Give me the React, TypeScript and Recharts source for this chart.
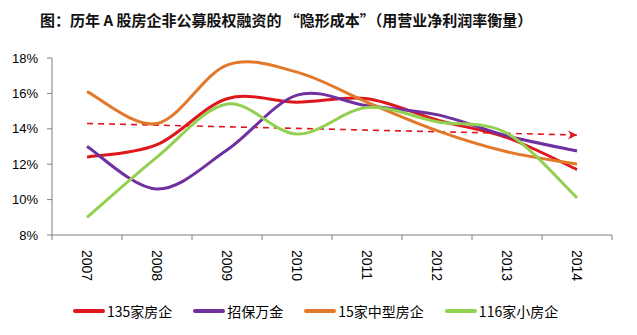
import React from 'react';
import { LineChart, Line, XAxis, YAxis } from 'recharts';

const years = ['2007', '2008', '2009', '2010', '2011', '2012', '2013', '2014'];
const red135 = [12.4, 13.1, 15.7, 15.5, 15.7, 14.5, 13.5, 11.7];
const zhaoBaoWanJin = [13.0, 10.6, 12.8, 15.9, 15.3, 14.8, 13.6, 12.75];
const mid15 = [16.1, 14.3, 17.6, 17.2, 15.5, 13.9, 12.7, 12.0];
const small116 = [9.0, 12.4, 15.4, 13.7, 15.2, 14.4, 13.75, 10.1];
const trend = [14.3, null, null, null, null, null, null, 13.65];
const yTicks = [8, 10, 12, 14, 16, 18];

const series = [
  { key: 's1', name: '135家房企', color: '#E0161D', values: red135 },
  { key: 's2', name: '招保万金', color: '#7030A0', values: zhaoBaoWanJin },
  { key: 's3', name: '15家中型房企', color: '#E2782A', values: mid15 },
  { key: 's4', name: '116家小房企', color: '#92D050', values: small116 },
];

const data = years.map((y, i) => {
  const row: any = { year: y, trend: trend[i] };
  series.forEach((s) => (row[s.key] = s.values[i]));
  return row;
});

// Catmull-Rom style smoothing (similar to Excel smoothed lines)
const smoothCurve: any = (context: any) => {
  let pts: number[][] = [];
  return {
    areaStart() {},
    areaEnd() {},
    lineStart() {
      pts = [];
    },
    point(x: number, y: number) {
      pts.push([+x, +y]);
    },
    lineEnd() {
      if (!pts.length) return;
      context.moveTo(pts[0][0], pts[0][1]);
      const t = 1 / 6;
      for (let i = 0; i < pts.length - 1; i++) {
        const p0 = pts[i - 1] || pts[i];
        const p1 = pts[i];
        const p2 = pts[i + 1];
        const p3 = pts[i + 2] || p2;
        context.bezierCurveTo(
          p1[0] + (p2[0] - p0[0]) * t,
          p1[1] + (p2[1] - p0[1]) * t,
          p2[0] - (p3[0] - p1[0]) * t,
          p2[1] - (p3[1] - p1[1]) * t,
          p2[0],
          p2[1]
        );
      }
    },
  };
};

const CHART_W = 637;
const MARGIN = { top: 58, right: 25, bottom: 0, left: 0 };
const Y_W = 52;
const HALF_BAND = (CHART_W - MARGIN.right - MARGIN.left - Y_W) / years.length / 2;

const XTick = (props: any) => {
  const { x, y, payload, index } = props;
  const isLast = index === years.length - 1;
  return (
    <g>
      <line x1={x - HALF_BAND} x2={x - HALF_BAND} y1={y} y2={y + 5} stroke="#808080" />
      {isLast && <line x1={x + HALF_BAND} x2={x + HALF_BAND} y1={y} y2={y + 5} stroke="#808080" />}
      <text
        x={x}
        y={y + 15}
        transform={`rotate(90, ${x}, ${y + 15})`}
        textAnchor="start"
        dominantBaseline="central"
        fontSize={14}
        fontFamily="'Liberation Sans', Arial, sans-serif"
        fill="#000"
      >
        {payload.value}
      </text>
    </g>
  );
};

const ArrowDot = (props: any) => {
  const { cx, cy, index } = props;
  if (index !== years.length - 1 || cx == null || cy == null) return <g key={`d${index}`} />;
  return (
    <path
      key={`d${index}`}
      d={`M${cx},${cy} L${cx - 9},${cy - 4.5} L${cx - 6.5},${cy} L${cx - 9},${cy + 4.5} Z`}
      fill="#E0161D"
    />
  );
};

export default function App() {
  return (
    <div style={{ position: 'absolute', left: 0, top: 0, width: 637, height: 335, background: '#fff' }}>
      <div
        style={{
          position: 'absolute',
          left: 40,
          top: 10,
          fontFamily: "'Noto Sans CJK SC', sans-serif",
          fontWeight: 'bold',
          fontSize: 15,
          lineHeight: '20px',
          color: '#111',
          whiteSpace: 'nowrap',
        }}
      >
        图：历年 A 股房企非公募股权融资的 “隐形成本”（用营业净利润率衡量）
      </div>
      <LineChart width={CHART_W} height={335} data={data} margin={MARGIN}>
        <XAxis
          dataKey="year"
          height={100}
          padding={{ left: HALF_BAND, right: HALF_BAND }}
          axisLine={{ stroke: '#808080' }}
          tickLine={false}
          tickSize={0}
          tickMargin={0}
          tick={<XTick />}
          interval={0}
        />
        <YAxis
          width={Y_W}
          domain={[8, 18]}
          ticks={yTicks}
          interval={0}
          tickFormatter={(v: number) => `${v}%`}
          axisLine={{ stroke: '#808080' }}
          tickLine={{ stroke: '#808080' }}
          tickSize={5}
          tickMargin={9}
          tick={{ fontSize: 13, fill: '#000', fontFamily: "'Liberation Sans', Arial, sans-serif" }}
        />
        <Line
          dataKey="trend"
          stroke="#E0161D"
          strokeWidth={1.6}
          strokeDasharray="6 5"
          type="linear"
          connectNulls
          dot={<ArrowDot />}
          activeDot={false}
          isAnimationActive={false}
        />
        {series.map((s) => (
          <Line
            key={s.key}
            dataKey={s.key}
            name={s.name}
            stroke={s.color}
            strokeWidth={3}
            type={smoothCurve}
            dot={false}
            activeDot={false}
            isAnimationActive={false}
          />
        ))}
      </LineChart>
      <div
        style={{
          position: 'absolute',
          left: 73,
          top: 301,
          display: 'flex',
          alignItems: 'center',
          fontFamily: "'Noto Sans CJK SC', sans-serif",
          fontSize: 14,
          lineHeight: '20px',
          color: '#000',
          whiteSpace: 'nowrap',
        }}
      >
        {series.map((s, i) => (
          <div key={s.key} style={{ display: 'flex', alignItems: 'center', marginLeft: i === 0 ? 0 : 21 }}>
            <div style={{ width: 32, height: 4, borderRadius: 2, background: s.color, marginRight: 2 }} />
            <span>{s.name}</span>
          </div>
        ))}
      </div>
    </div>
  );
}
